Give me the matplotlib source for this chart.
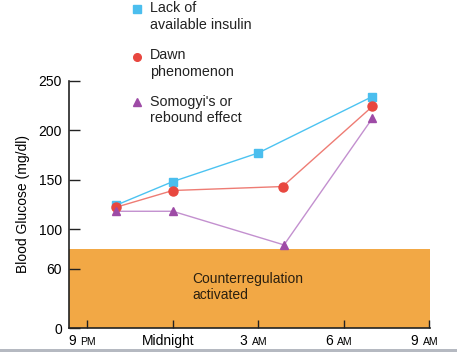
import matplotlib.pyplot as plt
from matplotlib.lines import Line2D
from matplotlib.patches import Rectangle
from matplotlib.offsetbox import TextArea, HPacker, AnnotationBbox

plt.rcParams['font.family'] = ['Liberation Sans', 'DejaVu Sans']

# hours after 9 PM
tick_hours = [0, 3, 6, 9, 12]
tick_labels = ["9 PM", "Midnight", "3 AM", "6 AM", "9 AM"]
y_ticks = [0, 60, 100, 150, 200, 250]

insulin_hours = [1, 3, 6, 10]
insulin_glucose = [124, 148, 177, 234]
dawn_hours = [1, 3, 6.85, 10]
dawn_glucose = [122, 139, 143, 224]
somogyi_hours = [1, 3, 6.9, 10]
somogyi_glucose = [118, 118, 84, 212]

counter_level = 80

fig = plt.figure(figsize=(4.57, 3.52), dpi=100)
ax = fig.add_axes([69 / 457, 24 / 352, 361 / 457, 247.3 / 352])

# counterregulation zone
ax.axhspan(0, counter_level, color='#F2A845', zorder=0, lw=0)
ax.text(3.67, 41.5, "Counterregulation\nactivated", ha='left', va='center',
        fontsize=10, color='#2b2010')

ax.plot(insulin_hours, insulin_glucose, color='#4CC3F1', lw=1.0, zorder=3)
ax.plot(insulin_hours, insulin_glucose, 's', color='#4BBEEE', ms=6, zorder=4)
ax.plot(dawn_hours, dawn_glucose, color='#EE7C74', lw=1.0, zorder=3)
ax.plot(dawn_hours, dawn_glucose, 'o', color='#E8473F', ms=6.5, zorder=4)
ax.plot(somogyi_hours, somogyi_glucose, color='#C390CF', lw=1.0, zorder=3)
ax.plot(somogyi_hours, somogyi_glucose, '^', color='#9E4BA6', ms=5.5, zorder=4)

ax.set_xlim(-0.64, 12.02)
ax.set_ylim(0, 250)
for s in ['top', 'right']:
    ax.spines[s].set_visible(False)
for s in ['left', 'bottom']:
    ax.spines[s].set_linewidth(1.2)
    ax.spines[s].set_color('#222222')

ax.set_yticks(y_ticks)
ax.tick_params(axis='y', direction='in', length=8, width=1, pad=5,
               labelsize=10, color='#222222')
ax.set_xticks(tick_hours)
ax.set_xticklabels([])
ax.tick_params(axis='x', direction='in', length=5.5, width=1, color='#222222')
ax.set_ylabel("Blood Glucose (mg/dl)", fontsize=10, labelpad=6.5)

# x labels with small "AM"/"PM"
for h, lab in zip(tick_hours, tick_labels):
    parts = lab.split(" ")
    boxes = [TextArea(parts[0], textprops=dict(fontsize=10))]
    if len(parts) > 1:
        boxes.append(TextArea(parts[1], textprops=dict(fontsize=7.5)))
    packed = HPacker(children=boxes, align="baseline", pad=0, sep=3)
    ab = AnnotationBbox(packed, (h, 0), xycoords=('data', 'axes fraction'),
                        xybox=(-3.5, -4.5), boxcoords='offset points',
                        box_alignment=(0.5, 1), frameon=False, pad=0,
                        annotation_clip=False)
    ax.add_artist(ab)

# legend drawn by hand
legend_items = [
    ('s', '#4BBEEE', 9, 16.5, "Lack of\navailable insulin"),
    ('o', '#E8473F', 57, 63.5, "Dawn\nphenomenon"),
    ('^', '#9E4BA6', 102, 110, "Somogyi's or\nrebound effect"),
]
for m, c, my, ty, txt in legend_items:
    fig.add_artist(Line2D([137 / 457], [1 - my / 352], marker=m, color=c,
                          ms=5.5, ls='none', transform=fig.transFigure))
    fig.text(150 / 457, 1 - ty / 352, txt, ha='left', va='center',
             fontsize=10.3, color='#222222')

fig.add_artist(Rectangle((0, 0), 1, 3.5 / 352, transform=fig.transFigure,
                         color='#B5B9C1', lw=0))

fig.savefig("out.png", dpi=100)
